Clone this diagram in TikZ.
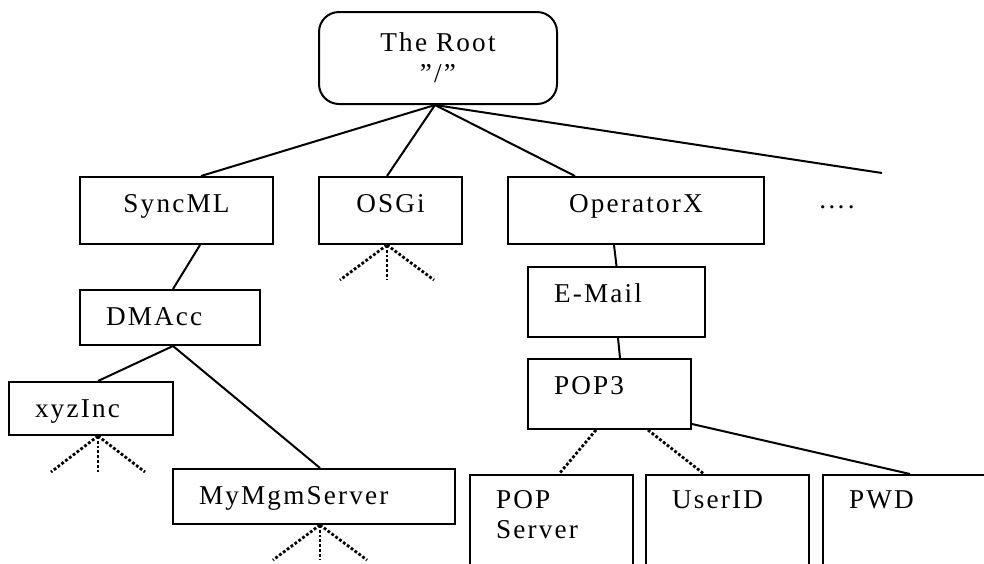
\documentclass[tikz,border=0pt]{standalone}
\usepackage{fontspec}
\setmainfont{Liberation Serif}[LetterSpace=8]
\tikzset{
  tree/.style={line width=1pt},
  cbox/.style={draw, tree, anchor=north west, inner xsep=0pt, inner ysep=0pt,
    align=center, text height=17.5pt},
  lbox/.style={draw, tree, anchor=north west, inner xsep=13pt, inner ysep=0pt,
    align=left, text height=17.5pt},
  open/.style={line width=1.4pt, densely dotted},
}
\begin{document}
\begin{tikzpicture}[x=0.5pt, y=-0.5pt,
    every node/.style={font=\fontsize{13.6}{15}\selectfont}]
  \clip (0,0) rectangle (984,563);
  \node[cbox, rounded corners=10pt, text width=119pt, text height=19.5pt,
    text depth=26.5pt] (root) at (318,11) {The Root\\[0.5pt]”/”};
  \node[cbox, text width=96.5pt, text depth=16pt] (syncml) at (79,176) {SyncML};
  \node[cbox, text width=71.5pt, text depth=16pt] (osgi) at (318,176) {OSGi};
  \node[cbox, text width=128pt, text depth=16pt] (operatorx) at (507,176) {OperatorX};
  \node[anchor=base west, inner sep=0pt] (more) at (818,208) {….};
  \coordinate (etc) at (882,173);
  \node[lbox, text width=64pt, text depth=10pt] (dmacc) at (79,289) {DMAcc};
  \node[lbox, text width=56pt, text depth=9pt] (xyzinc) at (8,381) {xyzInc};
  \node[lbox, text width=115pt, text depth=10pt] (mymgm) at (172,468) {MyMgmServer};
  \node[lbox, text width=62.5pt, text depth=17.5pt] (email) at (527,266) {E-Mail};
  \node[lbox, text width=55.5pt, text depth=17.5pt] (pop3) at (527,358) {POP3};
  \node[lbox, text width=55.5pt, text height=16.5pt, text depth=50pt] (popserver) at (469,474) {POP\\Server};
  \node[lbox, text width=55.5pt, text height=16.5pt, text depth=50pt] (userid) at (645,474) {UserID};
  \node[lbox, text width=84pt, text height=16.5pt, text depth=50pt] (pwd) at (822,474) {PWD};
  \begin{scope}[tree]
    \draw ([xshift=-1.5pt]root.south) -- ([xshift=12.25pt]syncml.north);
    \draw ([xshift=-1.5pt]root.south) -- ([xshift=-1.75pt]osgi.north);
    \draw ([xshift=-1.5pt]root.south) -- ([xshift=-30.5pt]operatorx.north);
    \draw ([xshift=-1.5pt]root.south) -- (etc);
    \draw ([xshift=11.75pt]syncml.south) -- ([xshift=1.5pt]dmacc.north);
    \draw ([xshift=1.5pt]dmacc.south) -- ([xshift=3.5pt]xyzinc.north);
    \draw ([xshift=1.5pt]dmacc.south) -- ([xshift=3pt]mymgm.north);
    \draw ([xshift=-11pt]operatorx.south) -- (email.north);
    \draw ([xshift=0.75pt]email.south) -- ([xshift=5.25pt]pop3.north);
    \draw ([yshift=3pt]pop3.south east) -- ([xshift=44pt]pwd.north west);
  \end{scope}
  \begin{scope}[open]
    \draw ([xshift=-6.75pt]pop3.south) -- ([xshift=3.75pt]popserver.north);
    \draw ([xshift=19.25pt]pop3.south) -- ([xshift=-11.75pt]userid.north);
    \foreach \dx in {-47,0,47} {
      \draw ([xshift=-1.75pt]osgi.south) -- ++(\dx,35);
      \draw ([xshift=3.5pt]xyzinc.south) -- ++(\dx,36);
      \draw ([xshift=3pt]mymgm.south) -- ++(\dx,35);
    }
  \end{scope}
\end{tikzpicture}
\end{document}
